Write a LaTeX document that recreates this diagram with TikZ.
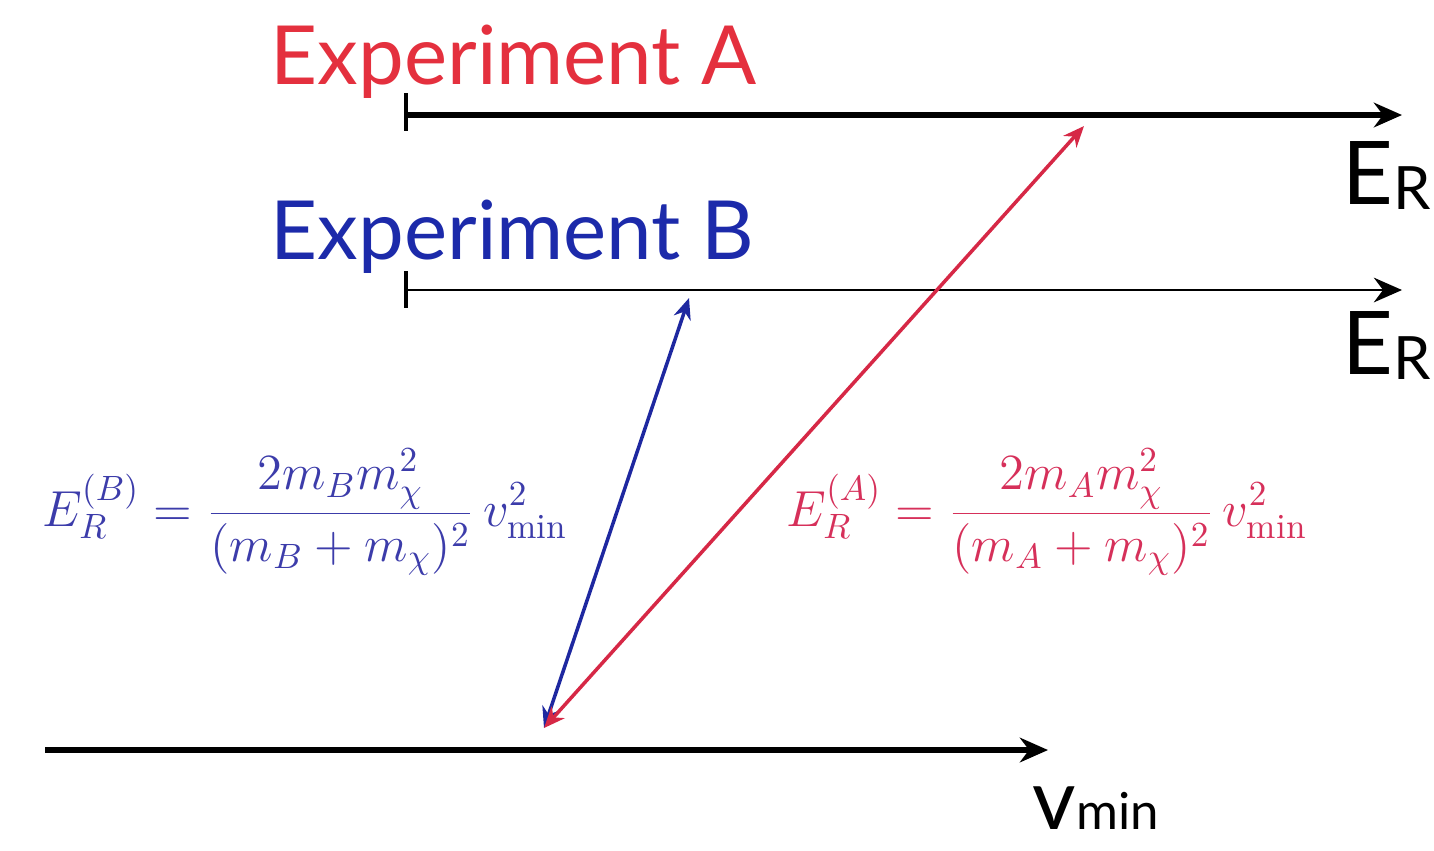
\documentclass[tikz,border=0pt]{standalone}
\usepackage{fontspec}
\setsansfont{Lato}
\usetikzlibrary{arrows.meta}
\definecolor{expred}{RGB}{228,48,62}
\definecolor{expblue}{RGB}{28,42,170}
\definecolor{arrred}{RGB}{214,40,70}
\definecolor{arrblue}{RGB}{30,40,160}
\definecolor{fred}{RGB}{214,48,90}
\definecolor{fblue}{RGB}{60,60,170}
\tikzset{
  axisthick/.style={line width=1.5pt,-{Stealth[length=8pt,width=7pt]}},
  axisthin/.style={line width=0.8pt,-{Stealth[length=8pt,width=7pt]}},
  tickmark/.style={line width=1.2pt},
  explabel/.style={anchor=base west,inner sep=0pt,font=\sffamily\fontsize{23.2}{28}\selectfont},
  axlabel/.style={anchor=base west,inner sep=0pt,font=\sffamily\fontsize{25}{28}\selectfont},
  vec/.style={line width=1pt,{Stealth[length=6pt,width=5pt]}-{Stealth[length=6pt,width=5pt]}},
  formula/.style={inner sep=0pt,font=\fontsize{14.3}{16}\selectfont}
}
\begin{document}
\begin{tikzpicture}[x=0.01cm,y=-0.01cm]
\useasboundingbox (0,0) rectangle (1434,850);
% experiment A axis
\coordinate (a0) at (406,115);
\coordinate (a1) at (1402,115);
\coordinate (at0) at (406,93);
\coordinate (at1) at (406,131);
\draw[axisthick] (a0) -- (a1);
\draw[tickmark] (at0) -- (at1);
\node[explabel,text=expred] (expA) at (270,84) {Experiment A};
\node[axlabel] (erA) at (1342,204) {E\raisebox{-0.12ex}{\fontsize{17}{18}\selectfont R}};
% experiment B axis
\coordinate (b0) at (406,290);
\coordinate (b1) at (1402,290);
\coordinate (bt0) at (406,271);
\coordinate (bt1) at (406,308);
\draw[axisthin] (b0) -- (b1);
\draw[tickmark] (bt0) -- (bt1);
\node[explabel,text=expblue] (expB) at (270,259) {Experiment B};
\node[axlabel] (erB) at (1342,374) {E\raisebox{-0.12ex}{\fontsize{17}{18}\selectfont R}};
% vmin axis
\coordinate (v0) at (45,750);
\coordinate (v1) at (1048,750);
\draw[axisthick] (v0) -- (v1);
\node[axlabel] (vmin) at (1032,829) {\fontsize{24}{28}\selectfont v{\fontsize{14.5}{18}\selectfont min}};
% vectors
\coordinate (o) at (544,728);
\coordinate (pB) at (689,298);
\coordinate (pA) at (1084,126);
\draw[vec,arrblue] (o) -- (pB);
\draw[vec,arrred] (o) -- (pA);
% formulas
\node[formula,text=fblue] (fB) at (305,512)
  {$\displaystyle E_R^{(B)} = \frac{2m_B m_\chi^2}{(m_B+m_\chi)^2}\, v_{\min}^2$};
\node[formula,text=fred] (fA) at (1047,512)
  {$\displaystyle E_R^{(A)} = \frac{2m_A m_\chi^2}{(m_A+m_\chi)^2}\, v_{\min}^2$};
\end{tikzpicture}
\end{document}
